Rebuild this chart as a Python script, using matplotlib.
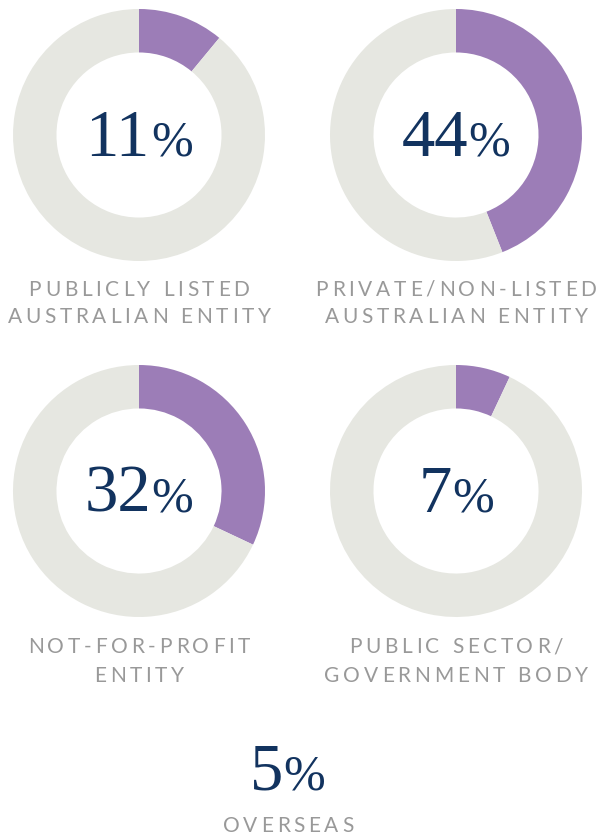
"""Donut charts: share of respondents by organisation type."""

import matplotlib
matplotlib.use("Agg")
import matplotlib.pyplot as plt
from matplotlib import font_manager, ft2font
from matplotlib.font_manager import FontProperties

# ── data ────────────────────────────────────────────────────────────────
categories = [
    ["PUBLICLY LISTED", "AUSTRALIAN ENTITY"],
    ["PRIVATE/NON-LISTED", "AUSTRALIAN ENTITY"],
    ["NOT-FOR-PROFIT", "ENTITY"],
    ["PUBLIC SECTOR/", "GOVERNMENT BODY"],
]
shares = [11, 44, 32, 7]
overseas_label = "OVERSEAS"
overseas_share = 5

# ── style ───────────────────────────────────────────────────────────────
W, H = 602, 836
PURPLE = "#9c7db7"
RING = "#e6e7e1"
NAVY = "#12335f"
LABEL = "#999999"
SERIF = "Liberation Serif"
SANS = "Lato"

centers = [(139, 135), (456, 135), (139, 491), (456, 491)]
R = 126
label_base = [(296, 323), (296, 323), (653, 682), (653, 682)]


def advances(text, family, size_pt):
    """Per-character advance widths in pixels (dpi 100)."""
    path = font_manager.findfont(FontProperties(family=family))
    font = ft2font.FT2Font(path)
    font.set_size(size_pt, 100)
    return [font.load_char(ord(c)).linearHoriAdvance / 65536 for c in text]


def tracked_text(ax, x_center, y_base, text, size_pt=15, track=3.7):
    adv = advances(text, SANS, size_pt)
    total = sum(adv) + track * (len(text) - 1)
    x = x_center - total / 2
    for ch, a in zip(text, adv):
        ax.text(x, y_base, ch, family=SANS, fontsize=size_pt, color=LABEL,
                ha="left", va="baseline")
        x += a + track


def percent_text(ax, x_center, y_base, value, num_pt=48, pct_pt=36):
    digits = str(value)
    w_num = sum(advances(digits, SERIF, num_pt))
    w_pct = sum(advances("%", SERIF, pct_pt))
    x = x_center - (w_num + w_pct) / 2
    ax.text(x, y_base, digits, family=SERIF, fontsize=num_pt, color=NAVY,
            ha="left", va="baseline")
    ax.text(x + w_num, y_base, "%", family=SERIF, fontsize=pct_pt, color=NAVY,
            ha="left", va="baseline")


fig = plt.figure(figsize=(W / 100, H / 100), dpi=100)

for (cx, cy), v in zip(centers, shares):
    dax = fig.add_axes([(cx - R) / W, 1 - (cy + R) / H, 2 * R / W, 2 * R / H])
    dax.pie([v, 100 - v], colors=[PURPLE, RING], startangle=90,
            counterclock=False, radius=1,
            wedgeprops=dict(width=0.345, linewidth=0))
    dax.set_xlim(-1, 1)
    dax.set_ylim(-1, 1)
    dax.set_facecolor("none")

# overlay for all text, in pixel coordinates
ax = fig.add_axes([0, 0, 1, 1])
ax.set_xlim(0, W)
ax.set_ylim(H, 0)
ax.axis("off")

for (cx, cy), v, lines, (b1, b2) in zip(centers, shares, categories, label_base):
    percent_text(ax, cx, cy + 21, v)
    tracked_text(ax, cx, b1, lines[0])
    tracked_text(ax, cx, b2, lines[1])

percent_text(ax, 287, 790, overseas_share)
tracked_text(ax, 288, 832, overseas_label)

fig.savefig("out.png", dpi=100)
